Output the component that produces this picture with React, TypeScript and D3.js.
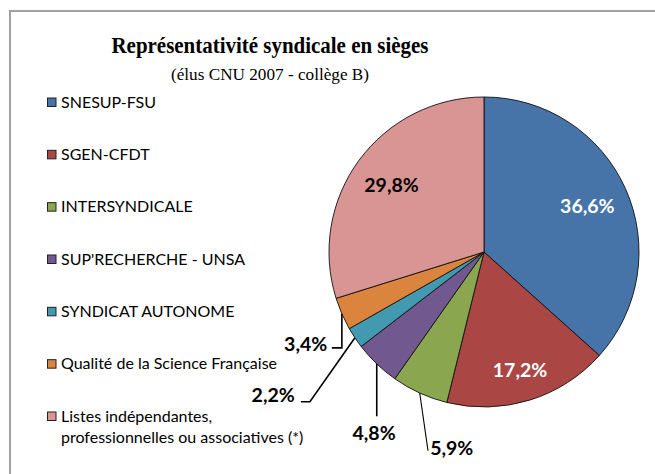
import * as d3 from "d3";
import React from "react";

// seats share per union, CNU 2007 college B
const categories = [
  "SNESUP-FSU",
  "SGEN-CFDT",
  "INTERSYNDICALE",
  "SUP'RECHERCHE - UNSA",
  "SYNDICAT AUTONOME",
  "Qualité de la Science Française",
  "Listes indépendantes,|professionnelles ou associatives (*)",
];
const shares = [36.6, 17.2, 5.9, 4.8, 2.2, 3.4, 29.8];
const colors = ["#4674a8", "#aa4644", "#8aa64f", "#71598f", "#4399b0", "#db843e", "#d99594"];

const W = 655;
const H = 474;
const cx = 484;
const cy = 252;
const R = 155;

// label placement: inside labels sit on the mid angle at a fraction of the radius,
// outside ones are offset from the slice edge and get a leader line
const placement: any[] = [
  { rf: 0.73 },
  { rf: 0.79 },
  { off: [32, 54], leader: [[8.3, 57.7]], lw: 1.1 },
  { off: [-2.7, 68.5], leader: [[0, 52.4]], lw: 1.6 },
  { off: [-81.7, 57], leader: [[-45, 64], [-54, 64]], lw: 1.6 },
  { off: [-36.2, 30], leader: [[0, 34], [-10, 34]], lw: 1.6 },
  { rf: 0.74 },
];

const fmt = (v: number) => v.toFixed(1).replace(".", ",") + "%";
const sansFont = "Lato, 'Open Sans', sans-serif";

export default function App() {
  const pie = d3.pie<number>().sort(null).value((d) => d);
  const arcs = pie(shares);
  const arc = d3.arc<d3.PieArcDatum<number>>().innerRadius(0).outerRadius(R);

  const polar = (a: number, r: number): [number, number] => [cx + r * Math.sin(a), cy - r * Math.cos(a)];

  const legendY = d3.scalePoint<number>().domain(d3.range(categories.length)).range([102, 416]);

  return (
    <svg width={W} height={H} style={{ position: "absolute", left: 0, top: 0, background: "#fff" }}>
      <rect x={10} y={11} width={W + 20} height={H + 20} fill="#fff" stroke="#a0a0a0" strokeWidth={2} />

      <text x={270} y={52.5} textAnchor="middle" fontFamily="'Liberation Serif', 'Times New Roman', serif"
        fontWeight="bold" fontSize={24} textLength={317} lengthAdjust="spacingAndGlyphs">
        Représentativité syndicale en sièges
      </text>
      <text x={270} y={79.5} textAnchor="middle" fontFamily="'Liberation Serif', 'Times New Roman', serif"
        fontSize={17} textLength={198} lengthAdjust="spacingAndGlyphs">
        (élus CNU 2007 - collège B)
      </text>

      <g transform={`translate(${cx},${cy})`}>
        {arcs.map((a, i) => (
          <path key={i} d={arc(a) || ""} fill={colors[i]} stroke="#111" strokeWidth={0.9} />
        ))}
      </g>

      {arcs.map((a, i) => {
        const p = placement[i];
        const mid = (a.startAngle + a.endAngle) / 2;
        if (p.rf) {
          const [x, y] = polar(mid, R * p.rf);
          return (
            <text key={i} x={x} y={y} textAnchor="middle" dominantBaseline="central" fontFamily={sansFont}
              fontWeight="bold" fontSize={19.5} fill={i === 6 ? "#000" : "#fff"}>
              {fmt(shares[i])}
            </text>
          );
        }
        const [ex, ey] = polar(mid, R);
        const pts: [number, number][] = [[ex, ey], ...p.leader.map((d: number[]) => [ex + d[0], ey + d[1]] as [number, number])];
        return (
          <g key={i}>
            <path d={d3.line()(pts) || ""} fill="none" stroke="#000" strokeWidth={p.lw} />
            <text x={ex + p.off[0]} y={ey + p.off[1]} textAnchor="middle" dominantBaseline="central"
              fontFamily={sansFont} fontWeight="bold" fontSize={19.5} fill="#000">
              {fmt(shares[i])}
            </text>
          </g>
        );
      })}

      {categories.map((c, i) => {
        const y = legendY(i) as number;
        return (
          <g key={c}>
            <rect x={47.5} y={y - 4} width={8.5} height={8.5} fill={colors[i]} stroke="#222" strokeWidth={1} />
            {c.split("|").map((line, j) => (
              <text key={j} x={61} y={y + 5.5 + j * 21} fontFamily={sansFont} fontSize={16} fill="#000">
                {line}
              </text>
            ))}
          </g>
        );
      })}
    </svg>
  );
}
